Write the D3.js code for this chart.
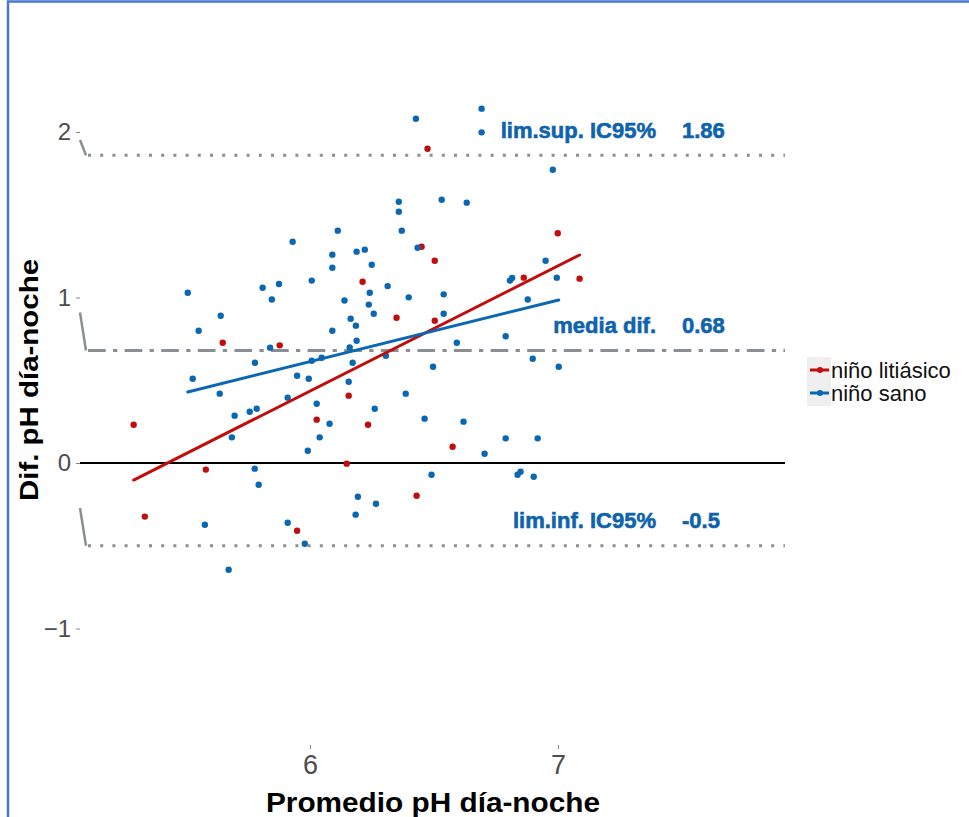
<!DOCTYPE html>
<html>
<head>
<meta charset="utf-8">
<script src="https://cdn.jsdelivr.net/npm/d3@7"></script>
<style>
  html, body { margin: 0; padding: 0; background: #fff; }
  svg { display: block; }
  text { font-family: "Liberation Sans", Arial, sans-serif; }
</style>
</head>
<body>
<svg id="chart" width="969" height="817"></svg>
<script>
// Bland-Altman style comparison: day-night pH difference vs. mean pH
const groups = ["niño litiásico", "niño sano"];
const groupColors = ["#c00d0d", "#0b67b2"];

// niño sano: [promedio pH, diferencia pH]
const sanoPoints = [
  [6.112, 1.404], [5.930, 1.337], [6.090, 1.259], [6.188, 1.277], [6.090, 1.180],
  [6.007, 1.102], [5.875, 1.082], [5.809, 1.059], [5.507, 1.029], [5.846, 0.988],
  [6.139, 0.982], [6.427, 2.080], [6.692, 2.141], [6.692, 1.998], [6.979, 1.772],
  [6.358, 1.579], [6.358, 1.518], [6.531, 1.591], [6.632, 1.573], [6.370, 1.404],
  [6.221, 1.289], [6.434, 1.301], [6.249, 1.198], [6.313, 1.069], [6.241, 1.029],
  [6.398, 1.001], [6.539, 1.019], [6.950, 1.222], [6.806, 1.102], [6.815, 1.118],
  [6.995, 1.120], [6.878, 0.988], [5.640, 0.890], [5.551, 0.799], [6.164, 0.872],
  [6.185, 0.830], [6.090, 0.799], [6.188, 0.739], [5.839, 0.697], [6.160, 0.698],
  [5.778, 0.606], [6.007, 0.618], [6.047, 0.636], [6.172, 0.606], [5.527, 0.509],
  [5.948, 0.527], [5.995, 0.509], [6.156, 0.491], [5.636, 0.419], [5.910, 0.395],
  [6.027, 0.358], [5.696, 0.286], [5.757, 0.310], [5.785, 0.328], [6.079, 0.237],
  [5.685, 0.155], [6.039, 0.155], [5.991, 0.074], [5.777, -0.034], [5.793, -0.131],
  [6.237, 0.957], [6.257, 0.902], [6.539, 0.902], [6.789, 0.766], [6.592, 0.727],
  [6.306, 0.648], [6.496, 0.582], [6.898, 0.630], [7.003, 0.582], [6.386, 0.419],
  [6.261, 0.328], [6.462, 0.268], [6.619, 0.250], [6.789, 0.149], [6.918, 0.149],
  [6.704, 0.056], [6.490, -0.071], [6.837, -0.071], [6.849, -0.053], [6.902, -0.083],
  [6.193, -0.204], [5.576, -0.373], [6.184, -0.312], [5.910, -0.361], [5.979, -0.488],
  [5.672, -0.645], [6.266, -0.246]
];

// niño litiásico: [promedio pH, diferencia pH]
const litiasicoPoints = [
  [6.474, 1.899], [6.450, 1.307], [6.503, 1.222], [6.212, 1.095], [6.999, 1.388],
  [6.862, 1.120], [7.087, 1.114], [5.648, 0.727], [5.878, 0.711], [6.156, 0.407],
  [6.027, 0.262], [5.289, 0.231], [6.148, -0.004], [5.580, -0.040], [6.349, 0.878],
  [6.503, 0.860], [6.234, 0.231], [6.575, 0.098], [5.334, -0.324], [5.948, -0.409],
  [6.430, -0.198]
];

// fitted linear trends, evaluated at each group's x-range ends
const litiasicoFit = [[5.289, -0.103], [7.087, 1.257]];
const sanoFit = [[5.507, 0.429], [7.003, 0.985]];

// agreement limits
const refLabels = ["lim.sup. IC95%", "media dif.", "lim.inf. IC95%"];
const refValues = [1.86, 0.68, -0.5];
const refValueText = ["1.86", "0.68", "-0.5"];
const refDash = ["3,9.2", "17.7,7.3,4.3,7.3", "3,9.2"];

const xTicks = [6, 7];
const yTicks = [2, 1, 0, -1];

const svg = d3.select("#chart");

const x = d3.scaleLinear().domain([6, 7]).range([310, 558]);
const y = d3.scaleLinear().domain([0, 1]).range([463, 297.5]);

const xLeft = x.invert(80), xRight = x.invert(785);

// outer frame
svg.append("path")
  .attr("d", "M8,817 L8,1.5 L969,1.5")
  .attr("fill", "none")
  .attr("stroke", "#4a78cf")
  .attr("stroke-width", 2.5);

// y axis ticks and labels
const yAxis = svg.append("g").attr("transform", "translate(80,0)")
  .call(d3.axisLeft(y).tickValues(yTicks).tickSize(4).tickPadding(5)
    .tickFormat(d => d < 0 ? "\u2212" + Math.abs(d) : d));
yAxis.select(".domain").remove();
yAxis.selectAll(".tick line").attr("stroke", "#888").attr("stroke-width", 1);
yAxis.selectAll(".tick text")
  .attr("fill", "#4d4d4d")
  .style("font-size", "24px")
  .style("font-family", "'Liberation Sans', Arial, sans-serif");

// x axis ticks and labels
const xAxis = svg.append("g").attr("transform", "translate(0,745)")
  .call(d3.axisBottom(x).tickValues(xTicks).tickSize(4).tickPadding(6).tickFormat(d3.format("d")));
xAxis.select(".domain").remove();
xAxis.selectAll(".tick line").attr("stroke", "#888").attr("stroke-width", 1);
xAxis.selectAll(".tick text")
  .attr("fill", "#4d4d4d")
  .style("font-size", "27px")
  .style("font-family", "'Liberation Sans', Arial, sans-serif");

// axis titles
svg.append("text")
  .attr("x", 433).attr("y", 812)
  .attr("text-anchor", "middle")
  .style("font-size", "27px").style("font-weight", "bold")
  .attr("textLength", 334).attr("lengthAdjust", "spacingAndGlyphs")
  .text("Promedio pH día-noche");

svg.append("text")
  .attr("transform", "translate(38,380) rotate(-90)")
  .attr("text-anchor", "middle")
  .style("font-size", "26px").style("font-weight", "bold")
  .attr("textLength", 242).attr("lengthAdjust", "spacingAndGlyphs")
  .text("Dif. pH día-noche");

// zero line
svg.append("line")
  .attr("x1", x(xLeft)).attr("x2", x(xRight))
  .attr("y1", y(0)).attr("y2", y(0))
  .attr("stroke", "#000").attr("stroke-width", 2);

// reference lines with their short connectors from the axis
const refG = svg.append("g");
refValues.forEach((v, i) => {
  const yStart = [y(2) + 8, y(1) + 15, y(0) + 45][i];
  refG.append("line")
    .attr("x1", 80).attr("y1", yStart)
    .attr("x2", 86).attr("y2", y(v))
    .attr("stroke", "#8a8f96").attr("stroke-width", 2.5);
  refG.append("line")
    .attr("x1", 88).attr("x2", x(xRight))
    .attr("y1", y(v)).attr("y2", y(v))
    .attr("stroke", "#8a8f96").attr("stroke-width", 3)
    .attr("stroke-dasharray", refDash[i]);
  refG.append("text")
    .attr("x", 656).attr("y", y(v) - 25)
    .attr("dy", "0.35em")
    .attr("text-anchor", "end")
    .attr("fill", "#0f63ad")
    .attr("stroke", "#0f63ad").attr("stroke-width", 0.6)
    .style("font-size", "22px").style("font-weight", "bold")
    .text(refLabels[i]);
  refG.append("text")
    .attr("x", 682).attr("y", y(v) - 25)
    .attr("dy", "0.35em")
    .attr("text-anchor", "start")
    .attr("fill", "#0f63ad")
    .attr("stroke", "#0f63ad").attr("stroke-width", 0.6)
    .style("font-size", "22px").style("font-weight", "bold")
    .text(refValueText[i]);
});

// points
const ptG = svg.append("g");
[litiasicoPoints, sanoPoints].forEach((pts, gi) => {
  ptG.selectAll(null).data(pts).enter().append("circle")
    .attr("cx", d => x(d[0])).attr("cy", d => y(d[1]))
    .attr("r", 3.2)
    .attr("fill", groupColors[gi]);
});

// trend lines
const line = d3.line().x(d => x(d[0])).y(d => y(d[1]));
[litiasicoFit, sanoFit].forEach((fit, gi) => {
  svg.append("path")
    .attr("d", line(fit))
    .attr("fill", "none")
    .attr("stroke", groupColors[gi])
    .attr("stroke-width", 3)
    .attr("stroke-linecap", "round");
});

// legend
const lg = svg.append("g").attr("transform", "translate(807,357)");
lg.append("rect").attr("width", 24).attr("height", 49).attr("fill", "#efefef");
groups.forEach((g, i) => {
  const cy = 13 + i * 23;
  lg.append("line").attr("x1", 3).attr("x2", 22).attr("y1", cy).attr("y2", cy)
    .attr("stroke", groupColors[i]).attr("stroke-width", 3);
  lg.append("circle").attr("cx", 13).attr("cy", cy).attr("r", 3).attr("fill", groupColors[i]);
  lg.append("text").attr("x", 24).attr("y", cy).attr("dy", "0.35em")
    .style("font-size", "22px").attr("fill", "#111").text(g);
});
</script>
</body>
</html>
